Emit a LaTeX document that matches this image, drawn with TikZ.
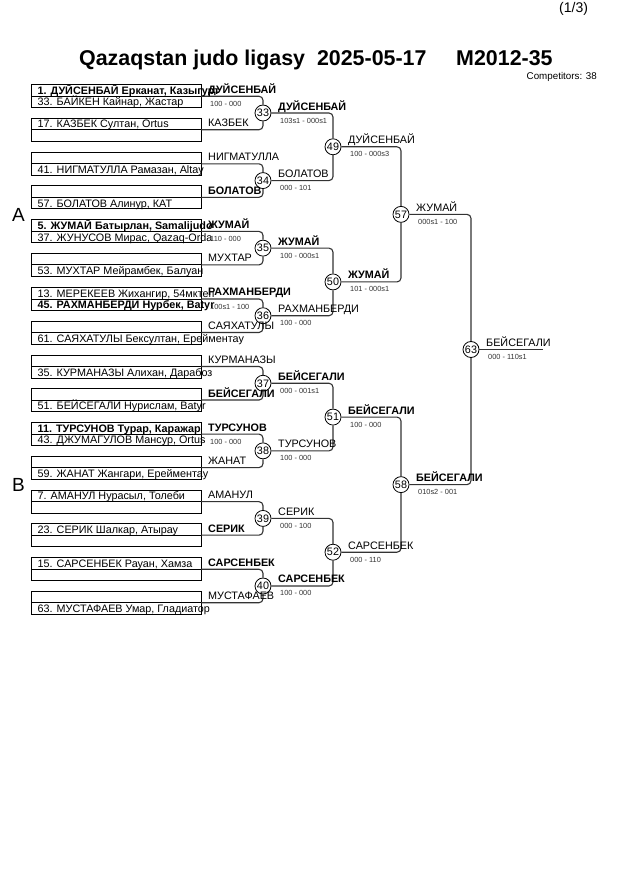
\documentclass[tikz,border=0pt]{standalone}
\usepackage{fontspec}
\setmainfont{Liberation Sans}
\tikzset{
 rowbox/.style={draw=black, line width=0.8bp, minimum width=170bp, minimum height=11.5bp, inner sep=0, outer sep=0},
 rowtxt/.style={anchor=base west, inner sep=0, font=\fontsize{10.8bp}{12bp}\selectfont},
 lbl/.style={anchor=base west, inner sep=0, font=\fontsize{10.8bp}{12bp}\selectfont},
 score/.style={anchor=base west, inner sep=0, text=black!80, font=\fontsize{7.4bp}{8bp}\selectfont},
 mcirc/.style={circle, draw=black, line width=0.8bp, fill=white, minimum size=16bp, inner sep=0, font=\fontsize{10.8bp}{12bp}\selectfont},
 conn/.style={draw=black!80, line width=1.1bp, rounded corners=4bp},
}
% #1 index, #2 match number, #3-#6 rows, #7 top label, #8 bottom label, #9 score
\newcommand\FirstRound[9]{%
 \pgfmathsetmacro\cy{113+67.57*#1}%
 \pgfmathsetmacro\ya{\cy-16.75}%
 \pgfmathsetmacro\yb{\cy+16.75}%
 \node[rowbox] (r#2a) at (116,\ya-5.75) {};
 \node[rowbox] (r#2b) at (116,\ya+5.75) {};
 \node[rowbox] (r#2c) at (116,\yb-5.75) {};
 \node[rowbox] (r#2d) at (116,\yb+5.75) {};
 \node[mcirc] (m#2) at (263,\cy) {#2};
 \draw[conn] (r#2a.south east) -| (m#2.north);
 \draw[conn] (r#2d.north east) -| (m#2.south);
 \if\relax\detokenize{#3}\relax\else\node[rowtxt] (ta#2) at (37.5,\ya-1.8) {#3};\fi
 \if\relax\detokenize{#4}\relax\else\node[rowtxt] (tb#2) at (37.5,\ya+9.7) {#4};\fi
 \if\relax\detokenize{#5}\relax\else\node[rowtxt] (tc#2) at (37.5,\yb-1.8) {#5};\fi
 \if\relax\detokenize{#6}\relax\else\node[rowtxt] (td#2) at (37.5,\yb+9.7) {#6};\fi
 \node[lbl] (la#2) at (208,\ya-3) {#7};
 \node[lbl] (lb#2) at (208,\yb-3) {#8};
 \if\relax\detokenize{#9}\relax\else\node[score] (sc#2) at (210,\ya+10.5) {#9};\fi
}
\newcommand\Res[3]{%
 \node[lbl] (res#1) at ([xshift=15bp,yshift=3bp]m#1.center) {#2};
 \node[score] (rs#1) at ([xshift=17bp,yshift=-10bp]m#1.center) {#3};
}
\begin{document}
\begin{tikzpicture}[x=1bp,y=-1bp]
\fill[white] (0,0) rectangle (630,891);
\useasboundingbox (0,0) rectangle (630,891);

\node[anchor=base west, inner sep=0, font=\fontsize{14bp}{16bp}\selectfont] (page) at (559,12.5) {(1/3)};
\node[anchor=base west, inner sep=0, font=\bfseries\fontsize{21.4bp}{24bp}\selectfont] (title) at (79,65.5) {Qazaqstan judo ligasy\hspace{0.556em}2025-05-17\hspace{1.39em}M2012-35};
\node[anchor=base east, inner sep=0, font=\fontsize{9.8bp}{11bp}\selectfont] (comp) at (597,79.5) {Competitors: 38};
\node[anchor=base west, inner sep=0, font=\fontsize{19bp}{21bp}\selectfont] (poolA) at (12,221) {A};
\node[anchor=base west, inner sep=0, font=\fontsize{19bp}{21bp}\selectfont] (poolB) at (12,491) {B};

\FirstRound{0}{33}{\bfseries 1. ДУЙСЕНБАЙ Ерканат, Казыгурт}{33. БАЙКЕН Кайнар, Жастар}{17. КАЗБЕК Султан, Ortus}{}{\bfseries ДУЙСЕНБАЙ}{КАЗБЕК}{100 - 000}
\FirstRound{1}{34}{}{41. НИГМАТУЛЛА Рамазан, Altay}{}{57. БОЛАТОВ Алинур, КАТ}{НИГМАТУЛЛА}{\bfseries БОЛАТОВ}{}
\FirstRound{2}{35}{\bfseries 5. ЖУМАЙ Батырлан, Samalijudo}{37. ЖУНУСОВ Мирас, Qazaq-Orda}{}{53. МУХТАР Мейрамбек, Балуан}{\bfseries ЖУМАЙ}{МУХТАР}{110 - 000}
\FirstRound{3}{36}{13. МЕРЕКЕЕВ Жихангир, 54мктеп}{\bfseries 45. РАХМАНБЕРДИ Нурбек, Batyr}{}{61. САЯХАТУЛЫ Бексултан, Ерейментау}{\bfseries РАХМАНБЕРДИ}{САЯХАТУЛЫ}{100s1 - 100}
\FirstRound{4}{37}{}{35. КУРМАНАЗЫ Алихан, Дарабоз}{}{51. БЕЙСЕГАЛИ Нурислам, Batyr}{КУРМАНАЗЫ}{\bfseries БЕЙСЕГАЛИ}{}
\FirstRound{5}{38}{\bfseries 11. ТУРСУНОВ Турар, Каражар}{43. ДЖУМАГУЛОВ Мансур, Ortus}{}{59. ЖАНАТ Жангари, Ерейментау}{\bfseries ТУРСУНОВ}{ЖАНАТ}{100 - 000}
\FirstRound{6}{39}{7. АМАНУЛ Нурасыл, Толеби}{}{23. СЕРИК Шалкар, Атырау}{}{АМАНУЛ}{\bfseries СЕРИК}{}
\FirstRound{7}{40}{15. САРСЕНБЕК Рауан, Хамза}{}{}{63. МУСТАФАЕВ Умар, Гладиатор}{\bfseries САРСЕНБЕК}{МУСТАФАЕВ}{}

\node[mcirc] (m49) at (333,146.785) {49};
\node[mcirc] (m50) at (333,281.925) {50};
\node[mcirc] (m51) at (333,417.065) {51};
\node[mcirc] (m52) at (333,552.205) {52};
\node[mcirc] (m57) at (401,214.355) {57};
\node[mcirc] (m58) at (401,484.635) {58};
\node[mcirc] (m63) at (471,349.495) {63};
\coordinate (fin) at (543,349.495);

\draw[conn] (m33.east) -| (m49.north);
\draw[conn] (m34.east) -| (m49.south);
\draw[conn] (m35.east) -| (m50.north);
\draw[conn] (m36.east) -| (m50.south);
\draw[conn] (m37.east) -| (m51.north);
\draw[conn] (m38.east) -| (m51.south);
\draw[conn] (m39.east) -| (m52.north);
\draw[conn] (m40.east) -| (m52.south);
\draw[conn] (m49.east) -| (m57.north);
\draw[conn] (m50.east) -| (m57.south);
\draw[conn] (m51.east) -| (m58.north);
\draw[conn] (m52.east) -| (m58.south);
\draw[conn] (m57.east) -| (m63.north);
\draw[conn] (m58.east) -| (m63.south);
\draw[conn] (m63.east) -- (fin);

\Res{33}{\bfseries ДУЙСЕНБАЙ}{103s1 - 000s1}
\Res{34}{БОЛАТОВ}{000 - 101}
\Res{35}{\bfseries ЖУМАЙ}{100 - 000s1}
\Res{36}{РАХМАНБЕРДИ}{100 - 000}
\Res{37}{\bfseries БЕЙСЕГАЛИ}{000 - 001s1}
\Res{38}{ТУРСУНОВ}{100 - 000}
\Res{39}{СЕРИК}{000 - 100}
\Res{40}{\bfseries САРСЕНБЕК}{100 - 000}
\Res{49}{ДУЙСЕНБАЙ}{100 - 000s3}
\Res{50}{\bfseries ЖУМАЙ}{101 - 000s1}
\Res{51}{\bfseries БЕЙСЕГАЛИ}{100 - 000}
\Res{52}{САРСЕНБЕК}{000 - 110}
\Res{57}{ЖУМАЙ}{000s1 - 100}
\Res{58}{\bfseries БЕЙСЕГАЛИ}{010s2 - 001}
\Res{63}{БЕЙСЕГАЛИ}{000 - 110s1}
\end{tikzpicture}
\end{document}
